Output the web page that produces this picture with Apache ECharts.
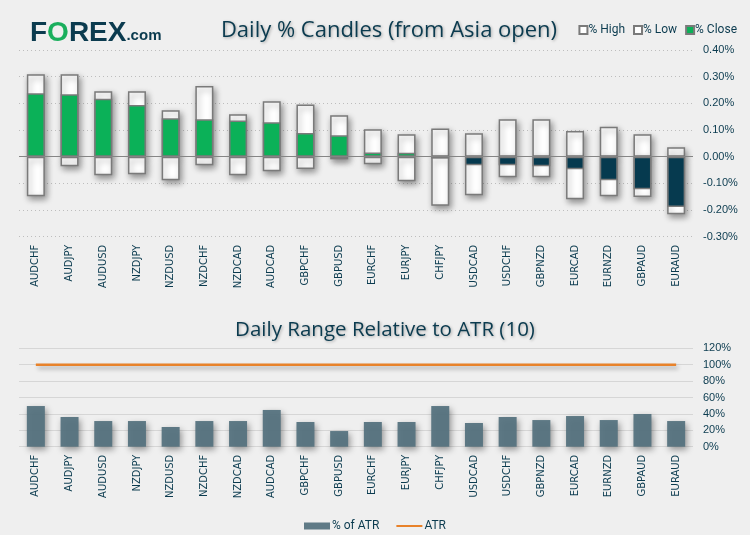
<!DOCTYPE html>
<html><head><meta charset="utf-8">
<script src="https://cdn.jsdelivr.net/npm/echarts@6/dist/echarts.min.js"></script>
<style>html,body{margin:0;padding:0;background:#efefef}#c{width:750px;height:535px}</style>
</head><body><div id="c"></div>
<script>
const categories = ['AUDCHF','AUDJPY','AUDUSD','NZDJPY','NZDUSD','NZDCHF','NZDCAD','AUDCAD','GBPCHF','GBPUSD','EURCHF','EURJPY','CHFJPY','USDCAD','USDCHF','GBPNZD','EURCAD','EURNZD','GBPAUD','EURAUD'];
const highPct = [0.309,0.309,0.245,0.245,0.174,0.265,0.159,0.208,0.196,0.155,0.103,0.084,0.106,0.088,0.140,0.140,0.096,0.112,0.084,0.035];
const lowPct = [-0.148,-0.036,-0.070,-0.066,-0.088,-0.032,-0.070,-0.055,-0.046,-0.010,-0.028,-0.092,-0.184,-0.145,-0.077,-0.077,-0.160,-0.148,-0.151,-0.216];
const closePct = [0.238,0.234,0.217,0.194,0.144,0.140,0.136,0.129,0.089,0.080,0.016,0.015,-0.007,-0.032,-0.032,-0.036,-0.047,-0.088,-0.122,-0.189];
const atrPct = [49.6,36.2,31.3,31.3,24.0,31.3,31.3,44.8,30.1,19.1,30.1,30.1,49.6,28.9,36.2,32.5,37.4,32.5,39.9,31.3];
const atrLine = [100,100,100,100,100,100,100,100,100,100,100,100,100,100,100,100,100,100,100,100];

const DARK = '#0b3b4f';
const GREEN = '#0bb158';
const NAVY = '#063a4f';
const shadow = {shadowColor:'rgba(0,0,0,0.4)', shadowBlur:6, shadowOffsetX:2, shadowOffsetY:3};
const boxStyle = Object.assign({color:'#ffffff', borderColor:'#7a7a7a', borderWidth:1.5}, shadow);

const chart = echarts.init(document.getElementById('c'), null, {renderer:'canvas'});
const axisLabelX = {rotate:90, fontFamily:'DejaVu Sans', fontSize:10, color:DARK, margin:8, interval:0};
const titleBase = {fontFamily:'Open Sans', fontWeight:'normal', color:DARK,
  textShadowColor:'rgba(0,0,0,0.3)', textShadowBlur:3, textShadowOffsetX:1, textShadowOffsetY:1};

chart.setOption({
  backgroundColor:'#efefef',
  animation:false,
  title:[
    {text:'{f|F}{o|O}{r|REX}{c|.com}', left:25, top:14,
     textStyle:{rich:{
       f:{fontFamily:'Liberation Sans', fontWeight:'bold', fontSize:28, color:DARK},
       o:{fontFamily:'Liberation Sans', fontWeight:'bold', fontSize:28, color:'#1aaf5d'},
       r:{fontFamily:'Liberation Sans', fontWeight:'bold', fontSize:28, color:DARK},
       c:{fontFamily:'Liberation Sans', fontWeight:'bold', fontSize:15, color:DARK, padding:[6,0,0,0]}}}},
    {text:'Daily % Candles (from Asia open)', left:384, textAlign:'center', top:15, textStyle:Object.assign({fontSize:22}, titleBase)},
    {text:'Daily Range Relative to ATR (10)', left:380, textAlign:'center', top:315, textStyle:Object.assign({fontSize:20.5}, titleBase)}
  ],
  legend:[
    {data:['% High','% Low','% Close'], right:8, top:19, icon:'rect', itemWidth:8, itemHeight:8, itemGap:8,
     textStyle:{fontFamily:'Roboto', fontSize:12, color:DARK, padding:[0,0,0,-4]}},
    {data:[{name:'% of ATR', icon:'rect'}, {name:'ATR', itemStyle:{opacity:0}}], left:'center', top:515, itemWidth:26, itemHeight:7, itemGap:16,
     textStyle:{fontFamily:'Roboto', fontSize:12, color:DARK, padding:[0,0,0,-3]}}
  ],
  grid:[
    {left:19, right:57, top:50, height:186.7},
    {left:19, right:57, top:348.3, height:98.4}
  ],
  xAxis:[
    {type:'category', gridIndex:0, data:categories, axisLine:{show:false}, axisTick:{show:false}, axisLabel:axisLabelX},
    {type:'category', gridIndex:1, data:categories, axisLine:{show:false}, axisTick:{show:false}, axisLabel:axisLabelX}
  ],
  yAxis:[
    {type:'value', gridIndex:0, position:'right', min:-0.3, max:0.4, interval:0.1,
     axisLabel:{formatter:v=>(Math.abs(v)<1e-9?0:v).toFixed(2)+'%', fontFamily:'Liberation Sans', fontSize:11, color:DARK, margin:10},
     splitLine:{lineStyle:{type:[1,3], color:'#bdbdbd'}}, axisLine:{show:false}, axisTick:{show:false}},
    {type:'value', gridIndex:1, position:'right', min:0, max:120, interval:20,
     axisLabel:{formatter:'{value}%', fontFamily:'Liberation Sans', fontSize:11, color:DARK, margin:10},
     splitLine:{lineStyle:{color:'#d6d6d6'}}, axisLine:{show:false}, axisTick:{show:false}}
  ],
  series:[
    {name:'% High', type:'bar', xAxisIndex:0, yAxisIndex:0, data:highPct, barWidth:18, barGap:'-100%', itemStyle:boxStyle},
    {name:'% Low', type:'bar', xAxisIndex:0, yAxisIndex:0, data:lowPct, barWidth:18, barGap:'-100%', itemStyle:boxStyle},
    {name:'% Close', type:'bar', xAxisIndex:0, yAxisIndex:0, barWidth:18, barGap:'-100%', z:3,
     itemStyle:{color:GREEN, borderColor:'#7a7a7a', borderWidth:1.5},
     data:closePct.map(v=>({value:v, itemStyle:{color: v>=0?GREEN:NAVY}})),
     markLine:{silent:true, symbol:'none', label:{show:false}, lineStyle:{color:'#858585', type:'solid', width:1},
       data:[{yAxis:0}]}},
    {name:'% of ATR', type:'bar', xAxisIndex:1, yAxisIndex:1, data:atrPct, barWidth:18,
     itemStyle:Object.assign({color:'#56737f', opacity:0.95}, shadow)},
    {name:'ATR', type:'line', xAxisIndex:1, yAxisIndex:1, data:atrLine, symbol:'none', z:4,
     itemStyle:{color:'#e8822a'},
     lineStyle:{color:'#e8822a', width:2.5, shadowColor:'rgba(0,0,0,0.3)', shadowBlur:4, shadowOffsetX:2, shadowOffsetY:3}}
  ]
});
</script></body></html>
